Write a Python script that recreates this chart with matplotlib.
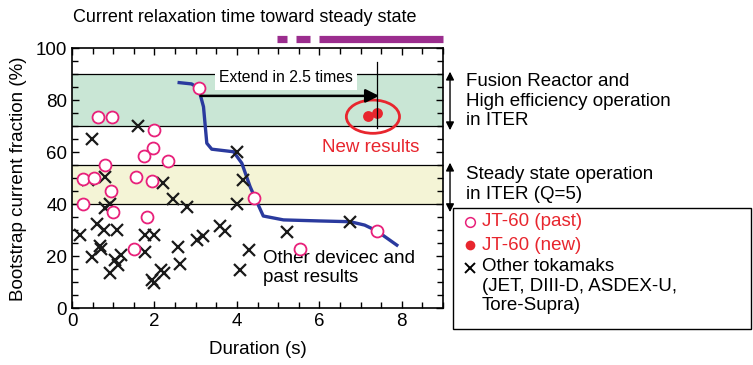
"""Bootstrap current fraction vs. discharge duration (JT-60 and other tokamaks)."""

import matplotlib

matplotlib.use("Agg")
import matplotlib.pyplot as plt
from matplotlib.lines import Line2D
from matplotlib.patches import Ellipse, Rectangle

plt.rcParams["font.family"] = ["Liberation Sans", "DejaVu Sans"]

# ---------- data ----------

# JT-60 past results (open circles): duration (s), bootstrap fraction (%)
jt60_past_x = [3.07, 0.63, 0.97, 1.99, 1.97, 1.74, 2.33, 0.81, 0.27, 0.53,
               1.56, 1.94, 0.94, 0.27, 1.0, 1.82, 1.5, 4.42, 5.53, 7.39]
jt60_past_y = [84.6, 73.7, 73.7, 68.6, 61.5, 58.6, 56.7, 55.1, 49.6, 50.0,
               50.4, 49.1, 45.2, 40.1, 37.2, 35.0, 22.7, 42.3, 22.7, 29.8]

# JT-60 new results (filled dots)
jt60_new_x = [7.19, 7.39]
jt60_new_y = [74.0, 75.2]

# Other tokamaks (crosses)
other_x = [0.49, 1.6, 4.0, 4.16, 0.39, 0.79, 2.2, 2.44, 2.8, 4.0,
           0.8, 0.92, 0.61, 0.78, 1.08, 0.19, 1.77, 2.0, 0.67, 0.71,
           1.76, 0.48, 1.04, 1.18, 1.12, 0.91, 2.17, 2.24, 1.95, 1.98,
           2.58, 2.62, 3.03, 3.17, 3.59, 3.71, 4.3, 4.08, 5.21, 6.75]
other_y = [65.0, 70.0, 60.0, 49.3, 49.3, 50.6, 48.2, 42.2, 38.9, 40.3,
           38.5, 40.0, 32.4, 30.1, 30.1, 28.2, 28.2, 28.2, 24.0, 23.0,
           21.8, 19.9, 18.6, 20.5, 16.7, 13.6, 14.6, 13.6, 10.8, 9.8,
           23.5, 17.0, 26.3, 27.8, 31.7, 29.8, 22.4, 14.7, 29.5, 33.3]

# Blue trend curve
curve_x = [2.6, 2.9, 3.07, 3.19, 3.27, 3.39, 3.92, 4.12, 4.32, 4.44,
           4.64, 5.13, 6.0, 6.75, 7.1, 7.39, 7.88]
curve_y = [86.8, 86.3, 84.6, 77.5, 63.5, 61.2, 60.2, 55.8, 46.8, 42.5,
           35.5, 34.0, 33.6, 33.3, 32.0, 29.8, 24.3]

# Target bands (%)
reactor_band = (70, 90)
steady_band = (40, 55)

# Purple bars marking current relaxation time (s)
relax_segments = [(4.98, 5.21), (5.44, 5.78), (6.0, 9.0)]

x_ticks = [0, 2, 4, 6, 8]
y_ticks = [0, 20, 40, 60, 80, 100]

# ---------- plot ----------

PINK = "#E8207A"
RED = "#E8262E"
BLUE = "#2A3A9E"
PURPLE = "#9B2D8E"
GREEN = "#C9E6D5"
YELLOW = "#F4F4D6"
FS = 13.5

fig = plt.figure(figsize=(7.53, 3.65), dpi=100)
ax = fig.add_axes([72 / 753, 1 - 308.3 / 365, 371 / 753, 260 / 365])
ax.set_xlim(0, 9)
ax.set_ylim(0, 100)

ax.axhspan(*reactor_band, color=GREEN, lw=0, zorder=0)
ax.axhspan(*steady_band, color=YELLOW, lw=0, zorder=0)
for yv in reactor_band + steady_band:
    ax.axhline(yv, color="black", lw=0.9, zorder=1)

ax.plot(curve_x, curve_y, color=BLUE, lw=2.4, zorder=3)
ax.plot(other_x, other_y, ls="none", marker="x", ms=9, mew=1.6,
        color="#1a1a1a", zorder=4)
ax.plot(jt60_past_x, jt60_past_y, ls="none", marker="o", ms=8.6, mew=1.3,
        mfc="white", mec=PINK, zorder=5)
ax.plot(jt60_new_x, jt60_new_y, ls="none", marker="o", ms=7.8, mew=0,
        color=RED, zorder=6)

ax.add_patch(Ellipse((7.3, 73.7), 1.29, 12.8, fill=False, ec=RED, lw=2.0, zorder=6))
ax.plot([7.39, 7.39], [69.3, 94.7], color="black", lw=0.9, zorder=6)
ax.annotate("", xy=(7.45, 81.7), xytext=(3.12, 81.7),
            arrowprops=dict(arrowstyle="-|>", color="black", lw=1.8,
                            mutation_scale=20, shrinkA=0, shrinkB=0), zorder=6)
ax.text(3.57, 88.6, "Extend in 2.5 times", fontsize=11.3, va="center", ha="left",
        bbox=dict(facecolor="white", edgecolor="none", pad=3), zorder=5)
ax.text(7.25, 61.8, "New results", color=RED, fontsize=FS, ha="center", va="center")
ax.text(4.64, 15.4, "Other devicec and\npast results", fontsize=FS, ha="left",
        va="center", linespacing=1.15)

# relaxation-time bars above the axes
for x0, x1 in relax_segments:
    ax.plot([x0, x1], [103.7, 103.7], color=PURPLE, lw=5.2, solid_capstyle="butt",
            clip_on=False)
fig.text(73 / 753, 1 - 18 / 365, "Current relaxation time toward steady state",
         fontsize=13, ha="left", va="center")

# right-hand band annotations
for lo, hi in [(68.5, 91), (37, 56)]:
    ax.annotate("", xy=(9.17, lo), xytext=(9.17, hi), annotation_clip=False,
                arrowprops=dict(arrowstyle="<|-|>", color="black", lw=1.0,
                                mutation_scale=12, shrinkA=0, shrinkB=0))
fig.text(466 / 753, 1 - 101 / 365,
         "Fusion Reactor and\nHigh efficiency operation\nin ITER",
         fontsize=FS, ha="left", va="center", linespacing=1.2)
fig.text(466 / 753, 1 - 184.5 / 365, "Steady state operation\nin ITER (Q=5)",
         fontsize=FS, ha="left", va="center", linespacing=1.2)

# manual legend box
fig.patches.append(Rectangle((453 / 753, 1 - 329 / 365), 298 / 753, 121 / 365,
                             transform=fig.transFigure, fill=False, ec="black",
                             lw=1.0))
fig.lines.append(Line2D([470 / 753], [1 - 221.7 / 365], transform=fig.transFigure,
                        marker="o", ms=7, mfc="white", mec=PINK, mew=1.1))
fig.lines.append(Line2D([470 / 753], [1 - 245 / 365], transform=fig.transFigure,
                        marker="o", ms=7, mew=0, color=RED))
fig.lines.append(Line2D([470 / 753], [1 - 268.3 / 365], transform=fig.transFigure,
                        marker="x", ms=7, mew=1.4, color="black"))
fig.text(481.7 / 753, 1 - 221.7 / 365, "JT-60 (past)", color=RED, fontsize=FS,
         va="center")
fig.text(481.7 / 753, 1 - 245 / 365, "JT-60 (new)", color=RED, fontsize=FS,
         va="center")
fig.text(481.7 / 753, 1 - 258 / 365,
         "Other tokamaks\n(JET, DIII-D, ASDEX-U,\nTore-Supra)",
         fontsize=FS, va="top", ha="left", linespacing=1.2)

# axes styling
ax.set_xticks(x_ticks)
ax.set_yticks(y_ticks)
ax.set_xticks([v * 0.5 for v in range(19)], minor=True)
ax.set_yticks(list(range(0, 101, 5)), minor=True)
ax.tick_params(which="both", direction="in", top=True, right=True,
               labelsize=FS, width=1.0)
ax.tick_params(which="major", length=5)
ax.tick_params(which="minor", length=4)
for sp in ax.spines.values():
    sp.set_linewidth(1.2)
ax.set_xlabel("Duration (s)", fontsize=FS, labelpad=8)
ax.set_ylabel("Bootstrap current fraction (%)", fontsize=FS, labelpad=6)

fig.savefig("out.png", dpi=100)
